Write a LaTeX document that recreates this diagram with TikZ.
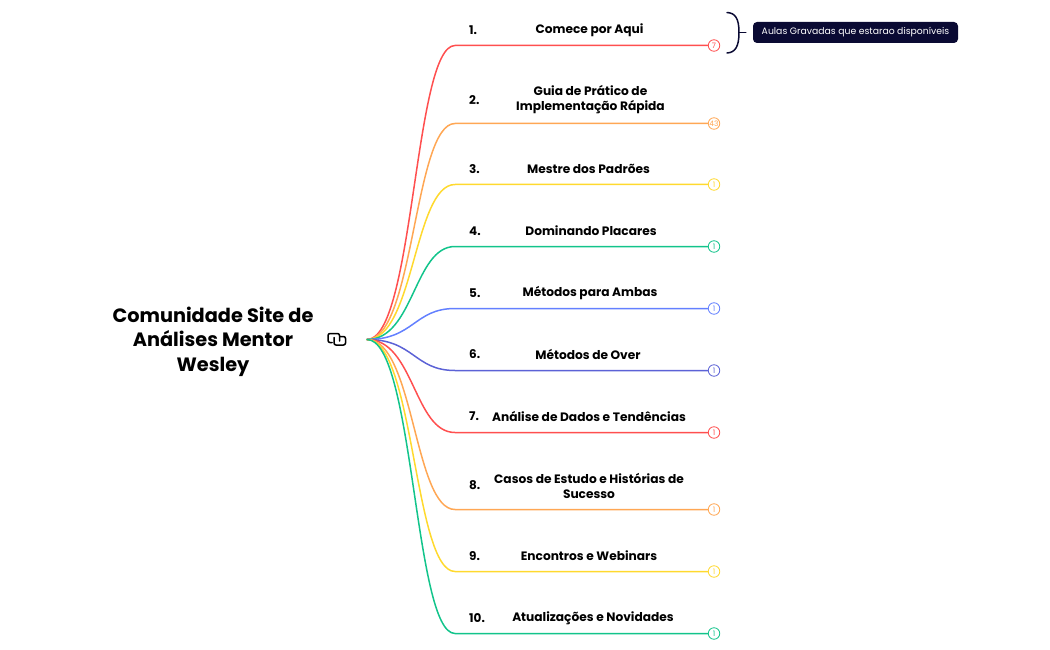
\documentclass[tikz,border=0pt]{standalone}
\usepackage{fontspec}
\setmainfont{Poppins}
\definecolor{cRed}{HTML}{FF4F4F}
\definecolor{cOrange}{HTML}{FFA754}
\definecolor{cYellow}{HTML}{FFD92E}
\definecolor{cGreen}{HTML}{12C48B}
\definecolor{cBlue}{HTML}{6380FF}
\definecolor{cIndigo}{HTML}{5C62D6}
\definecolor{cNavy}{HTML}{0A0A33}
\tikzset{
  rootlabel/.style={font=\fontsize{19.3}{24.5}\selectfont\bfseries,align=center,inner sep=0pt},
  itemlabel/.style={font=\fontsize{12.2}{15}\selectfont\bfseries,align=center,inner sep=0pt},
  itemnum/.style={font=\fontsize{12}{15}\selectfont\bfseries,anchor=west,inner sep=0pt},
  countbadge/.style={circle,draw,fill=white,line width=0.8pt,minimum size=11.5pt,inner sep=0pt,font=\fontsize{7.5}{8}\selectfont},
  notebox/.style={rounded corners=4pt,fill=cNavy,text=white,minimum height=21pt,minimum width=205pt,inner sep=0pt,font=\fontsize{9.3}{13}\selectfont},
  iconline/.style={line width=1.5pt,rounded corners=2pt},
}
\begin{document}
\begin{tikzpicture}[x=1pt,y=-1pt,line join=round,line cap=round]
\useasboundingbox (0,0) rectangle (1050,650);

\node[rootlabel] (root) at (213,341.5) {Comunidade Site de\\Análises Mentor\\Wesley};
\coordinate (hub) at (367,339.5);

% icon
\draw[iconline] (332,342.5) -- (328,342.5) -- (328,333.5) -- (339.5,333.5) -- (339.5,341);
\draw[iconline] (340,336.5) -- (345.5,336.5) -- (345.5,345) -- (334,345) -- (334,337.5);

% branches
\foreach \y/\ty/\col/\n/\tx/\txt [count=\i] in {
  45.5/30/cRed/7/589.5/{Comece por Aqui},
  123.5/100/cOrange/43/590.5/{Guia de Prático de\\Implementação Rápida},
  184.5/169/cYellow/1/588.5/{Mestre dos Padrões},
  246.5/231/cGreen/1/591/{Dominando Placares},
  308.5/293/cBlue/1/590/{Métodos para Ambas},
  370.5/354.5/cIndigo/1/588/{Métodos de Over},
  432.5/416/cRed/1/589/{Análise de Dados e Tendências},
  509.5/485.5/cOrange/1/589/{Casos de Estudo e Histórias de\\Sucesso},
  571.5/556/cYellow/1/589/{Encontros e Webinars},
  633.5/618/cGreen/1/593/{Atualizações e Novidades}}{
  \coordinate (bend\i) at (455,\y);
  \node[countbadge,draw=\col,text=\col] (count\i) at (714,\y) {\n};
  \draw[\col,line width=1.5pt] (hub) .. controls (414,339.5) and (414,\y) .. (bend\i) -- (count\i);
  \node[itemnum] (num\i) at (469,\ty) {\i.};
  \node[itemlabel] (item\i) at (\tx,\ty) {\txt};
}

% note
\coordinate (braceA) at (727,12.5);
\coordinate (braceB) at (739,32.5);
\coordinate (braceC) at (727,53);
\node[notebox] (note) at (855.5,32.5) {Aulas Gravadas que estarao disponíveis};
\draw[cNavy,line width=1.5pt] (braceA) .. controls (735,13) and (739,18) .. (braceB) .. controls (739,47) and (735,52.5) .. (braceC);
\draw[cNavy,line width=1.5pt,shorten >=7pt] (braceB) -- (note.west);
\end{tikzpicture}
\end{document}
